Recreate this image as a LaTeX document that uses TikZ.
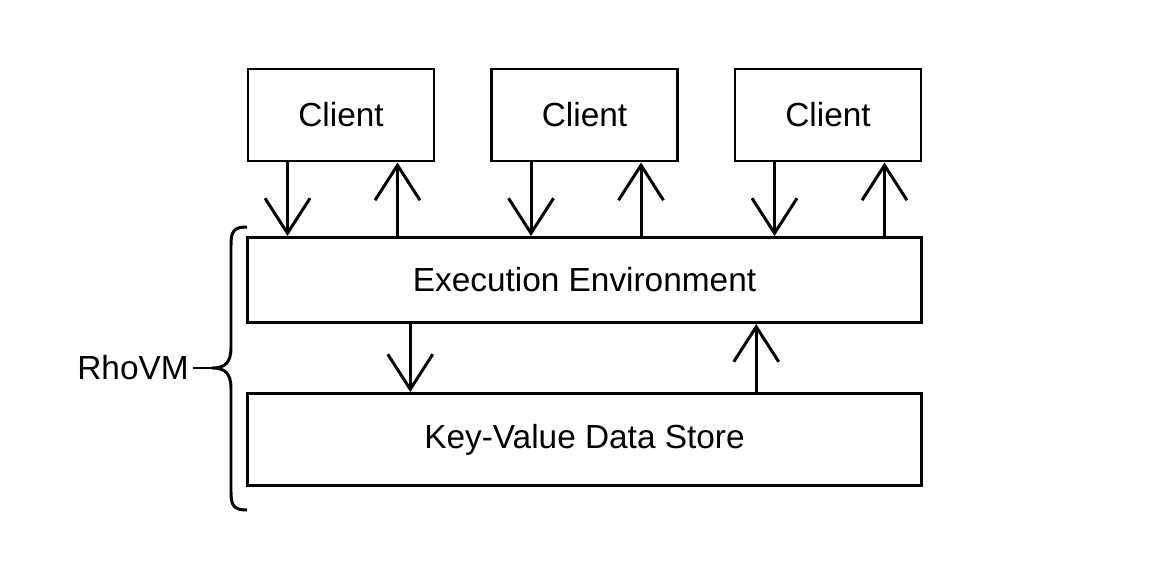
\documentclass[tikz,border=0pt]{standalone}
\usepackage{fontspec}
\setmainfont{Liberation Sans}
\usetikzlibrary{arrows.meta}

\tikzset{
    box/.style={draw, line width=1.7pt, inner sep=0pt, font=\fontsize{19}{23}\selectfont},
    flow/.style={line width=1.7pt, -{Straight Barb[length=0.7cm, width=0.9cm, line width=1.7pt]}},
}

\begin{document}
\begin{tikzpicture}
    \useasboundingbox (0, 0) rectangle (23.34, -11.34);
    \node [box, minimum width=3.72cm, minimum height=1.84cm] (client1) at (6.82, -2.30) {Client};
    \node [box, minimum width=3.72cm, minimum height=1.84cm] (client2) at (11.69, -2.30) {Client};
    \node [box, minimum width=3.72cm, minimum height=1.84cm] (client3) at (16.56, -2.30) {Client};
    \node [box, minimum width=13.47cm, minimum height=1.70cm] (exec) at (11.69, -5.60) {Execution Environment};
    \node [box, minimum width=13.47cm, minimum height=1.84cm] (store) at (11.69, -8.79) {Key-Value Data Store};
    \node [font=\fontsize{19}{23}\selectfont, inner sep=2pt] (rho) at (2.66, -7.36) {RhoVM};
    \coordinate (tip) at (4.25, -7.36);
    \foreach \c in {client1, client2, client3} {
        \draw [flow] ([xshift=0.82cm]\c.south west) -- ([xshift=0.82cm]\c.south west |- exec.north);
        \draw [flow] ([xshift=3.02cm]\c.south west |- exec.north) -- ([xshift=3.02cm]\c.south west);
    }
    \draw [flow] ([xshift=3.28cm]exec.south west) -- ([xshift=3.28cm]exec.south west |- store.north);
    \draw [flow] ([xshift=10.2cm]exec.south west |- store.north) -- ([xshift=10.2cm]exec.south west);
    \draw [line width=1.7pt] (4.94, -4.54) .. controls (4.68, -4.54) and (4.62, -4.62) .. (4.62, -4.9)
        -- (4.62, -6.95) .. controls (4.62, -7.25) and (4.5, -7.36) .. (tip)
        .. controls (4.5, -7.36) and (4.62, -7.47) .. (4.62, -7.77)
        -- (4.62, -9.84) .. controls (4.62, -10.12) and (4.68, -10.2) .. (4.94, -10.2);
    \draw [line width=1.7pt] (rho.east) -- (tip);
\end{tikzpicture}
\end{document}
